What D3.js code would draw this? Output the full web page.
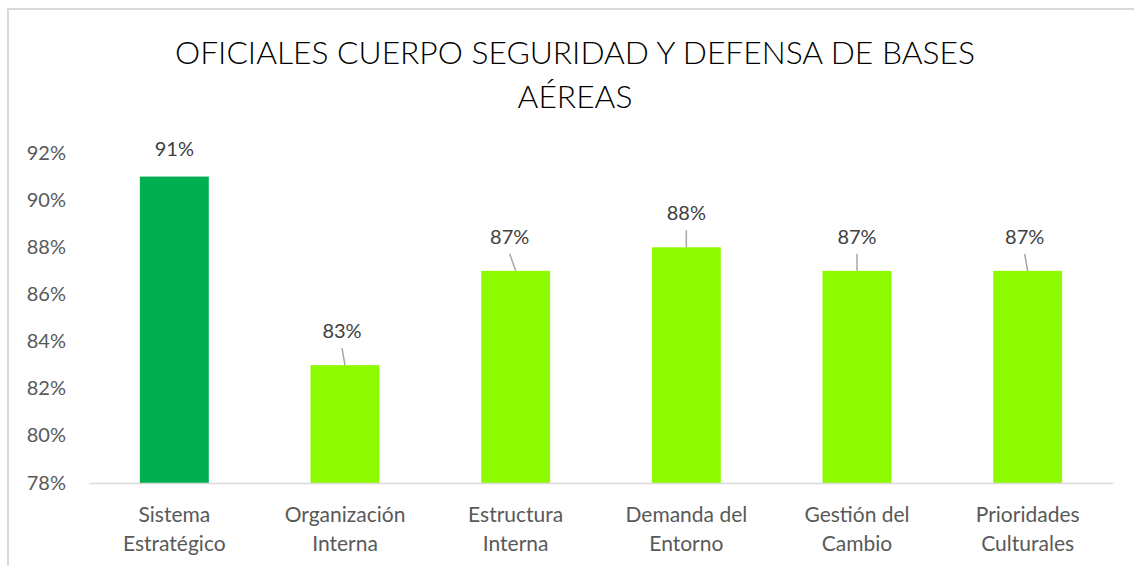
<!DOCTYPE html>
<html>
<head>
<meta charset="utf-8">
<script src="https://cdn.jsdelivr.net/npm/d3@7"></script>
<style>
  html, body { margin: 0; padding: 0; background: #fff; }
  svg { display: block; }
  text { font-family: "Lato", "Open Sans", sans-serif; }
</style>
</head>
<body>
<svg id="chart" width="1134" height="566"></svg>
<script>
// ---- data ----
const titleLines = ["OFICIALES CUERPO SEGURIDAD Y DEFENSA DE BASES", "AÉREAS"];
const categories = [
  ["Sistema", "Estratégico"],
  ["Organización", "Interna"],
  ["Estructura", "Interna"],
  ["Demanda del", "Entorno"],
  ["Gestión del", "Cambio"],
  ["Prioridades", "Culturales"]
];
const values = [0.91, 0.83, 0.87, 0.88, 0.87, 0.87];
const yTicks = [0.78, 0.80, 0.82, 0.84, 0.86, 0.88, 0.90, 0.92];

// ---- layout ----
const svg = d3.select("#chart");
const W = 1134, H = 566;
const plot = { left: 89, right: 1113, top: 153, bottom: 483 };
const textColor = "#595959";
const barColors = ["#00B050", "#8EFA00"];
const labelNudge = [0, -3, -6, 0, 0, -3];

// frame
svg.append("path")
  .attr("d", `M8,${H} L8,9 L${W},9`)
  .attr("fill", "none").attr("stroke", "#d9d9d9").attr("stroke-width", 2);

// title
const title = svg.append("text")
  .attr("x", 575).attr("y", 64)
  .attr("text-anchor", "middle")
  .attr("fill", "#000")
  .style("font-size", "29px")
  .style("font-weight", 300);
title.selectAll("tspan").data(titleLines).join("tspan")
  .attr("x", 575)
  .attr("y", (d, i) => 64 + i * 44)
  .text(d => d);
const firstLine = title.select("tspan").node();
const w0 = firstLine.getComputedTextLength();
if (w0 > 0) title.style("font-size", (29 * 800 / w0).toFixed(2) + "px");

// scales
const x = d3.scaleBand()
  .domain(d3.range(categories.length))
  .range([plot.left, plot.right])
  .paddingInner(0.596).paddingOuter(0.298);
const y = d3.scaleLinear().domain([0.78, 0.92]).range([plot.bottom, plot.top]);

// y axis (labels only)
const yAxis = d3.axisLeft(y).tickValues(yTicks).tickFormat(d3.format(".0%")).tickSize(0).tickPadding(0);
const yg = svg.append("g").attr("transform", "translate(66,0)").call(yAxis);
yg.select(".domain").remove();
yg.selectAll("text")
  .attr("fill", textColor)
  .attr("dy", "0.3em")
  .style("font-size", "20px")
  .style("font-family", "Lato, sans-serif");

// bars
svg.append("g").selectAll("rect").data(values).join("rect")
  .attr("x", (d, i) => x(i))
  .attr("y", d => y(d))
  .attr("width", x.bandwidth())
  .attr("height", d => y(0.78) - y(d))
  .attr("fill", (d, i) => i === 0 ? barColors[0] : barColors[1]);

// baseline axis
const xAxis = d3.axisBottom(x).tickSize(0).tickFormat("");
const xg = svg.append("g").attr("transform", `translate(0,${plot.bottom})`).call(xAxis);
xg.select(".domain").attr("stroke", "#d9d9d9").attr("stroke-width", 1.5);

// category labels
const cat = svg.append("g").selectAll("text").data(categories).join("text")
  .attr("text-anchor", "middle")
  .attr("fill", textColor)
  .style("font-size", "21px");
cat.each(function(d, i) {
  const cx = x(i) + x.bandwidth() / 2;
  d3.select(this).selectAll("tspan").data(d).join("tspan")
    .attr("x", cx)
    .attr("y", (t, j) => 522 + j * 29)
    .text(t => t);
});

// leader lines
const lg = svg.append("g");
values.forEach((v, i) => {
  if (i === 0) return;
  const cx = x(i) + x.bandwidth() / 2;
  lg.append("line")
    .attr("x1", cx + labelNudge[i]).attr("y1", y(v) - 17)
    .attr("x2", cx).attr("y2", y(v))
    .attr("stroke", "#a6a6a6").attr("stroke-width", 1.5);
});

// value labels
svg.append("g").selectAll("text").data(values).join("text")
  .attr("x", (d, i) => x(i) + x.bandwidth() / 2 + labelNudge[i])
  .attr("y", (d, i) => y(d) - (i === 0 ? 21 : 27))
  .attr("text-anchor", "middle")
  .attr("fill", "#404040")
  .style("font-size", "20px")
  .text(d => d3.format(".0%")(d));
</script>
</body>
</html>
